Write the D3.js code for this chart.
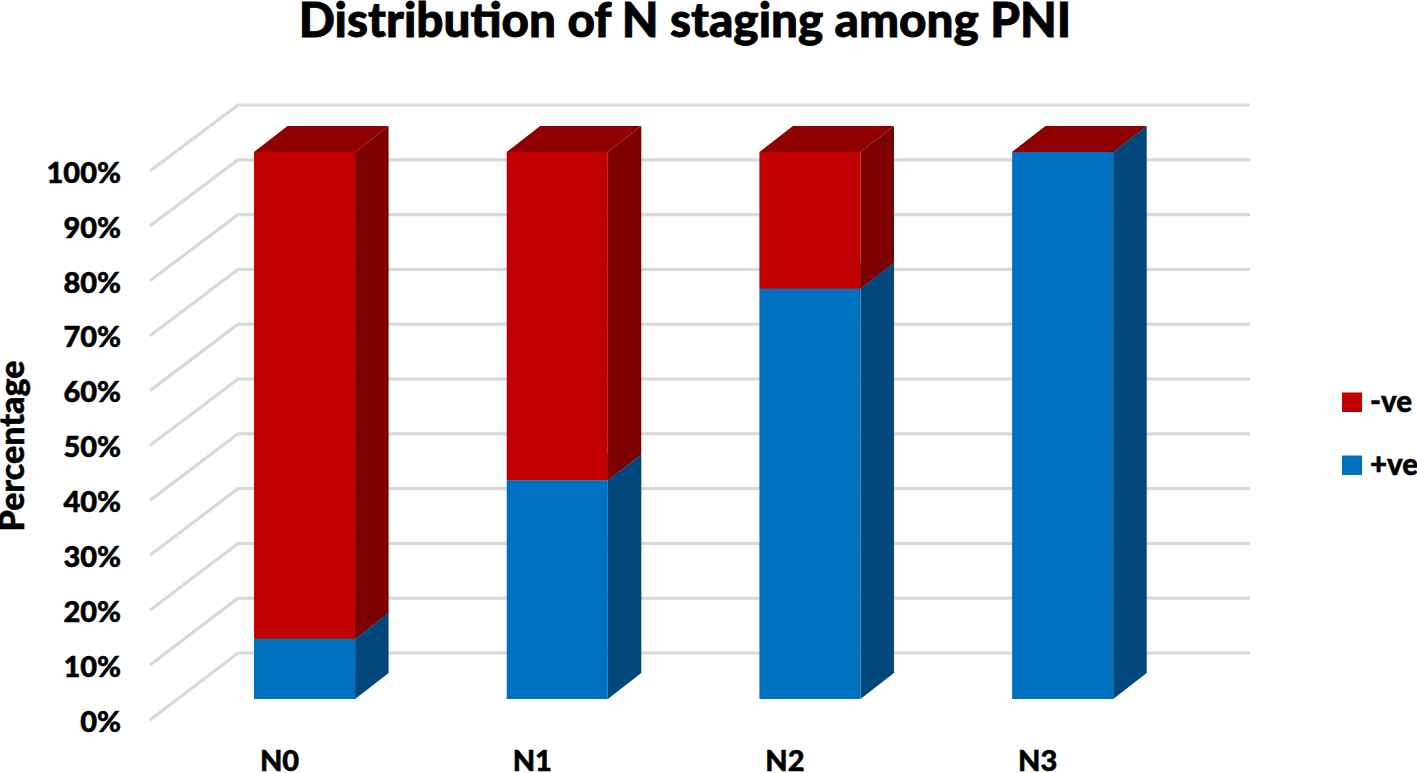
<!DOCTYPE html>
<html>
<head>
<meta charset="utf-8">
<script src="https://cdn.jsdelivr.net/npm/d3@7"></script>
<style>
  body { margin: 0; background: #fff; }
  svg { display: block; }
  text { font-family: Lato, "Open Sans", sans-serif; font-weight: 900; fill: #000; stroke: #000; stroke-width: 0.5px; }
</style>
</head>
<body>
<script>
const categories = ["N0", "N1", "N2", "N3"];
const seriesNames = ["+ve", "-ve"];
const positive = [11, 40, 75, 100];
const negative = [89, 60, 25, 0];
const percentTicks = [0, 10, 20, 30, 40, 50, 60, 70, 80, 90, 100];

const frontColors = { "+ve": "#0070c0", "-ve": "#c00000" };
const sideColors = { "+ve": "#00487c", "-ve": "#7c0000" };
const topColors = { "+ve": "#0070c0", "-ve": "#900000" };

const width = 1417, height = 773;
const svg = d3.select("body").append("svg").attr("width", width).attr("height", height);

const x = d3.scaleBand().domain(categories).range([178.2, 1189]).paddingInner(0.6).paddingOuter(0.3);
const y = d3.scaleLinear().domain([0, 100]).range([699, 152]);
// axis labels sit on the front edge of the wall, which is lower than the bars
const yWall = d3.scaleLinear().domain([0, 100]).range([720, 171]);
const yBack = d3.scaleLinear().domain([0, 100]).range([653, 105]);

// gridlines: slanted part on the side wall + flat part on the back wall
const wallX0 = 150, wallX1 = 238, gridEnd = 1250;
svg.append("g").selectAll("path")
  .data(percentTicks)
  .enter().append("path")
  .attr("d", d => `M${wallX0},${yWall(d)}L${wallX1},${yBack(d)}L${gridEnd},${yBack(d)}`)
  .attr("fill", "none")
  .attr("stroke", "#d9d9d9")
  .attr("stroke-width", 3.2);

const depthX = 33.5, depthY = -26;

const stacked = d3.stack().keys(seriesNames)(categories.map((c, i) => ({ cat: c, "+ve": positive[i], "-ve": negative[i] })));

stacked.forEach(layer => {
  const name = layer.key;
  const g = svg.append("g");
  layer.forEach(d => {
    const cat = d.data.cat;
    const left = x(cat), right = x(cat) + x.bandwidth();
    const bottom = y(d[0]), top = y(d[1]);
    g.append("path") // side
      .attr("d", `M${right},${bottom}L${right + depthX},${bottom + depthY}L${right + depthX},${top + depthY}L${right},${top}Z`)
      .attr("fill", sideColors[name]);
    g.append("path") // top
      .attr("d", `M${left},${top}L${left + depthX},${top + depthY}L${right + depthX},${top + depthY}L${right},${top}Z`)
      .attr("fill", topColors[name]);
    g.append("rect")
      .attr("x", left)
      .attr("y", top)
      .attr("width", x.bandwidth())
      .attr("height", bottom - top)
      .attr("fill", frontColors[name]);
  });
});

// y axis labels
const yAxis = d3.axisLeft(yWall).tickValues(percentTicks).tickFormat(d => d + "%").tickSize(0).tickPadding(0);
const yG = svg.append("g").attr("transform", "translate(121,2)").call(yAxis);
yG.select(".domain").remove();
yG.selectAll("text").attr("font-size", 29).style("font-family", "Lato").style("font-weight", 900);

// x axis labels, shifted left of the bars like the original
const xAxis = d3.axisBottom(x).tickSize(0).tickPadding(0);
const xG = svg.append("g").attr("transform", "translate(-25,750.5)").call(xAxis);
xG.select(".domain").remove();
xG.selectAll("text").attr("font-size", 29).style("font-family", "Lato").style("font-weight", 900);

svg.append("text")
  .attr("x", 685).attr("y", 37)
  .attr("text-anchor", "middle")
  .attr("font-size", 47.6)
  .style("stroke-width", "0.8px")
  .text("Distribution of N staging among PNI");

svg.append("text")
  .attr("transform", "translate(24,446) rotate(-90)")
  .attr("text-anchor", "middle")
  .attr("font-size", 34)
  .text("Percentage");

// legend
const legendY = d3.scalePoint().domain(["-ve", "+ve"]).range([402, 465]);
const legend = svg.append("g").selectAll("g")
  .data(legendY.domain())
  .enter().append("g")
  .attr("transform", d => `translate(1342,${legendY(d)})`);
legend.append("rect")
  .attr("y", -9.5).attr("width", 20).attr("height", 19.5)
  .attr("fill", d => frontColors[d]);
legend.append("text")
  .attr("x", 28).attr("y", 10)
  .attr("font-size", 29.5)
  .text(d => d);
</script>
</body>
</html>
